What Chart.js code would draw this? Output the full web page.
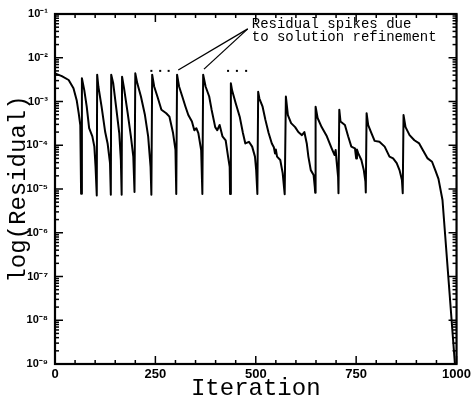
<!DOCTYPE html>
<html>
<head>
<meta charset="utf-8">
<script src="https://cdn.jsdelivr.net/npm/chart.js@4"></script>
<style>
  body { margin: 0; background: #fff; }
  #wrap { width: 474px; height: 403px; }
</style>
</head>
<body>
<div id="wrap"><canvas id="myChart"></canvas></div>
<script>
// residual history
var iterations = [
  0, 17, 34, 46, 54, 59, 63, 65, 67,
  73, 79, 85, 93, 98, 101, 104, 105,
  108, 116, 125, 131, 137, 139, 140,
  145, 153, 160, 164, 166, 167,
  172, 181, 189, 195, 198, 200,
  205, 214, 224, 232, 238, 240, 242,
  247, 255, 265, 277, 285, 294, 300, 302, 304,
  309, 317, 325, 332, 341, 347, 352, 357, 364, 367, 369,
  375, 384, 390, 399, 404, 410, 417, 425, 431, 435, 436, 438,
  441, 450, 460, 468, 474, 483, 491, 498, 501, 504, 506,
  509, 517, 524, 532, 540, 545, 548, 550, 553, 561, 567, 572, 575,
  580, 588, 598, 606, 615, 621, 627, 631, 637, 644, 647, 648, 649,
  654, 664, 677, 689, 696, 699, 701, 705, 706, 708,
  711, 722, 730, 738, 747, 750, 752, 755, 763, 769, 773, 774, 776,
  780, 788, 796, 808, 821, 833, 842, 851, 858, 864, 866, 868,
  873, 883, 895, 907, 916, 928, 939, 947, 955, 965, 996
];
var residuals = [
  4.4e-3, 3.8e-3, 3.1e-3, 2.0e-3, 1.07e-3, 5.4e-4, 2.9e-4, 7.8e-6, 3.4e-3,
  1.8e-3, 7.6e-4, 2.45e-4, 1.6e-4, 9.3e-5, 3.2e-5, 7.1e-6, 4.1e-3,
  2.2e-3, 7.6e-4, 2.0e-4, 1.1e-4, 3.9e-5, 7.4e-6, 4.1e-3,
  2.6e-3, 6.5e-4, 1.9e-4, 4.6e-5, 7.4e-6, 3.7e-3,
  2.0e-3, 5.4e-4, 1.6e-4, 5.5e-5, 8.5e-6, 4.4e-3,
  2.6e-3, 1.3e-3, 4.9e-4, 1.6e-4, 3.2e-5, 7.4e-6, 4.1e-3,
  2.2e-3, 1.3e-3, 6.5e-4, 5.4e-4, 4.5e-4, 1.9e-4, 7.8e-5, 7.7e-6, 4.1e-3,
  2.2e-3, 1.3e-3, 7.6e-4, 4.9e-4, 3.5e-4, 2.2e-4, 2.45e-4, 1.9e-4, 7.8e-5, 7.7e-6, 4.1e-3,
  2.2e-3, 1.3e-3, 6.5e-4, 2.6e-4, 2.2e-4, 2.9e-4, 1.6e-4, 1.3e-4, 5.5e-5, 3.2e-5, 7.7e-6, 2.6e-3,
  1.8e-3, 9.1e-4, 4.5e-4, 1.9e-4, 1.1e-4, 1.2e-4, 9.3e-5, 5.5e-5, 2.7e-5, 7.7e-6, 1.66e-3,
  1.17e-3, 7.6e-4, 3.8e-4, 1.9e-4, 1.1e-4, 9.0e-5, 6.5e-5, 8.0e-5, 5.5e-5, 4.6e-5, 2.3e-5, 7.6e-6, 1.3e-3,
  4.9e-4, 3.2e-4, 2.6e-4, 2.0e-4, 1.7e-4, 2.0e-4, 1.1e-4, 5.5e-5, 2.7e-5, 2.1e-5, 1.1e-5, 8.2e-6, 7.6e-4,
  4.2e-4, 2.6e-4, 1.6e-4, 8.5e-5, 6.0e-5, 7.8e-5, 4.6e-5, 1.9e-5, 8.0e-6, 6.5e-4,
  3.5e-4, 2.9e-4, 1.6e-4, 9.3e-5, 8.5e-5, 5.0e-5, 8.0e-5, 6.6e-5, 4.6e-5, 2.7e-5, 1.5e-5, 8.3e-6, 5.4e-4,
  2.9e-4, 1.9e-4, 1.26e-4, 1.2e-4, 9.3e-5, 5.5e-5, 5.0e-5, 3.9e-5, 2.7e-5, 1.6e-5, 8.0e-6, 4.9e-4,
  2.6e-4, 1.7e-4, 1.3e-4, 1.1e-4, 7.8e-5, 5.0e-5, 4.2e-5, 2.7e-5, 1.7e-5, 5.6e-6, 1e-9
];
var xTicks = [0, 250, 500, 750, 1000];
var yExponents = [-9, -8, -7, -6, -5, -4, -3, -2, -1];

// annotation: text lines, arrow tips (spikes) and "..." dots, in data units
var noteLines = ["Residual spikes due", "to solution refinement"];
var noteAt = { x: 490, y: [10 ** -1.32, 10 ** -1.62] };
var arrowFrom = { x: 480, y: 10 ** -1.34 };
var arrowTips = [{ x: 307, y: 10 ** -2.28 }, { x: 371, y: 10 ** -2.26 }];
var dotsX = [240, 262, 283, 431, 453, 476];
var dotsY = 10 ** -2.3;

var SUP = { "-": "\u207B", "0": "\u2070", "1": "\u00B9", "2": "\u00B2", "3": "\u00B3",
  "4": "\u2074", "5": "\u2075", "6": "\u2076", "7": "\u2077", "8": "\u2078", "9": "\u2079" };
function sup(n) {
  return String(n).split("").map(function (c) { return SUP[c]; }).join("");
}

var framePlugin = {
  id: "frame",
  afterDraw: function (chart) {
    var ctx = chart.ctx, a = chart.chartArea;
    var x = chart.scales.x, y = chart.scales.y;
    function seg(x1, y1, x2, y2) {
      ctx.beginPath(); ctx.moveTo(x1, y1); ctx.lineTo(x2, y2); ctx.stroke();
    }
    ctx.save();
    ctx.strokeStyle = "#000";
    ctx.lineWidth = 1.5;
    // y ticks, inward, both sides
    yExponents.forEach(function (e) {
      for (var m = 1; m <= 9; m++) {
        if (e === -1 && m > 1) break;
        var py = y.getPixelForValue(m * Math.pow(10, e));
        var len = m === 1 ? 8 : 4;
        seg(a.left, py, a.left + len, py);
        seg(a.right, py, a.right - len, py);
      }
    });
    // x ticks every 50, major every 250
    for (var v = 0; v <= 1000; v += 50) {
      var px = x.getPixelForValue(v);
      var l = v % 250 === 0 ? 8 : 4;
      seg(px, a.bottom, px, a.bottom - l);
      seg(px, a.top, px, a.top + l);
    }
    ctx.lineWidth = 2.2;
    ctx.strokeRect(a.left, a.top, a.right - a.left, a.bottom - a.top);

    // annotation
    ctx.lineWidth = 1.3;
    var fx = x.getPixelForValue(arrowFrom.x), fy = y.getPixelForValue(arrowFrom.y);
    arrowTips.forEach(function (t) {
      seg(fx, fy, x.getPixelForValue(t.x), y.getPixelForValue(t.y));
    });
    ctx.fillStyle = "#000";
    dotsX.forEach(function (d) {
      ctx.fillRect(x.getPixelForValue(d) - 1, y.getPixelForValue(dotsY) - 1, 2, 2);
    });
    ctx.font = "14px 'Liberation Mono', 'Courier New', monospace";
    ctx.textAlign = "left";
    ctx.textBaseline = "alphabetic";
    noteLines.forEach(function (s, i) {
      ctx.fillText(s, x.getPixelForValue(noteAt.x), y.getPixelForValue(noteAt.y[i]));
    });
    ctx.restore();
  }
};

var points = iterations.map(function (it, i) { return { x: it, y: residuals[i] }; });

var ctx = document.getElementById("myChart").getContext("2d");
var chart = new Chart(ctx, {
  type: "line",
  data: {
    datasets: [
      {
        label: "Residual",
        data: points,
        borderColor: "#000",
        borderWidth: 2,
        borderJoinStyle: "round",
        pointRadius: 0,
        tension: 0,
        fill: false,
      },
    ],
  },
  options: {
    responsive: true,
    maintainAspectRatio: false,
    animation: false,
    layout: { padding: { top: 14, right: 15, left: 0, bottom: 0 } },
    plugins: {
      legend: { display: false },
      tooltip: { enabled: false },
    },
    scales: {
      x: {
        type: "linear",
        min: 0,
        max: 1000,
        afterBuildTicks: function (scale) {
          scale.ticks = xTicks.map(function (v) { return { value: v }; });
        },
        afterFit: function (scale) { scale.height = 39; },
        ticks: {
          color: "#000",
          padding: 3,
          font: { family: "'Liberation Sans', Arial, sans-serif", size: 13, weight: "bold" },
          callback: function (value) { return String(value); },
        },
        grid: { display: false, drawTicks: false },
        border: { display: false },
        title: {
          display: true,
          text: "Iteration",
          color: "#000",
          padding: { top: 0, bottom: 0 },
          font: { family: "'Liberation Mono', 'Courier New', monospace", size: 24 },
        },
      },
      y: {
        type: "logarithmic",
        min: 1e-9,
        max: 1e-1,
        afterBuildTicks: function (scale) {
          scale.ticks = yExponents.map(function (e) { return { value: Math.pow(10, e) }; });
        },
        afterFit: function (scale) { scale.width = 55; },
        ticks: {
          color: "#000",
          padding: 7,
          font: { family: "'Liberation Sans', Arial, sans-serif", size: 11, weight: "bold" },
          callback: function (value) {
            return "10" + sup(Math.round(Math.log10(value)));
          },
        },
        grid: { display: false, drawTicks: false },
        border: { display: false },
        title: {
          display: true,
          text: "log(Residual)",
          color: "#000",
          padding: { top: 4, bottom: 0 },
          font: { family: "'Liberation Mono', 'Courier New', monospace", size: 24 },
        },
      },
    },
  },
  plugins: [framePlugin],
});
</script>
</body>
</html>
